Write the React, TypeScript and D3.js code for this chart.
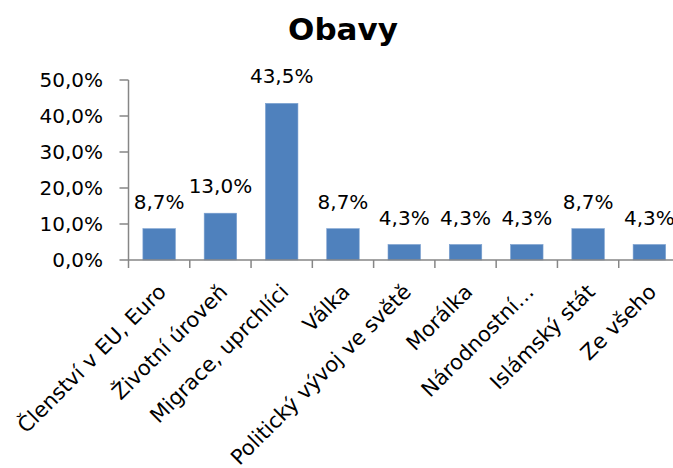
import React from "react";
import * as d3 from "d3";

const categories = [
  "Členství v EU, Euro",
  "Životní úroveň",
  "Migrace, uprchlíci",
  "Válka",
  "Politický vývoj ve světě",
  "Morálka",
  "Národnostní…",
  "Islámský stát",
  "Ze všeho",
];
const values = [8.7, 13.0, 43.5, 8.7, 4.3, 4.3, 4.3, 8.7, 4.3];
const yTicks = [0, 10, 20, 30, 40, 50];
const title = "Obavy";

const W = 673;
const H = 468;
const left = 128.5;
const right = 680;
const top = 80;
const bottom = 260;
const font = "'DejaVu Sans', sans-serif";
const axisColor = "#868686";

const fmt = (v: number) => v.toFixed(1).replace(".", ",") + "%";

export default function App() {
  const x = d3.scaleBand<string>().domain(categories).range([left, right]).paddingInner(0.47).paddingOuter(0.235);
  const xb = d3.scaleBand<string>().domain(categories).range([left, right]);
  const y = d3.scaleLinear().domain([0, 50]).range([bottom, top]);

  return (
    <svg width={W} height={H} style={{ position: "absolute", left: 0, top: 0 }} fontFamily={font}>
      <rect width={W} height={H} fill="#fff" />
      <text x={343} y={40} textAnchor="middle" fontSize={31} fontWeight="bold" fill="#000">
        {title}
      </text>
      {/* y axis */}
      <line x1={left} x2={left} y1={y(50)} y2={bottom} stroke={axisColor} strokeWidth={1.5} />
      {yTicks.map((t) => (
        <g key={t}>
          <line x1={left - 9} x2={left} y1={y(t)} y2={y(t)} stroke={axisColor} strokeWidth={1.5} />
          <text x={103} y={y(t)} dy="0.36em" textAnchor="end" fontSize={20} fill="#000">
            {fmt(t)}
          </text>
        </g>
      ))}
      {/* bars */}
      {categories.map((c, i) => (
        <rect key={c} x={x(c)} y={y(values[i])} width={x.bandwidth()} height={bottom - y(values[i])} fill="#4F81BD" stroke="#7A9FCF" strokeWidth={0.6} />
      ))}
      {/* x axis */}
      <line x1={left} x2={right} y1={bottom} y2={bottom} stroke={axisColor} strokeWidth={1.5} />
      {categories.map((c) => (
        <line key={c} x1={xb(c)} x2={xb(c)} y1={bottom} y2={bottom + 8} stroke={axisColor} strokeWidth={1.5} />
      ))}
      {/* data labels */}
      {categories.map((c, i) => (
        <text key={c} x={(x(c) as number) + x.bandwidth() / 2} y={y(values[i]) - 20} textAnchor="middle" fontSize={20} fill="#000">
          {fmt(values[i])}
        </text>
      ))}
      {/* category labels */}
      {categories.map((c) => {
        const cx = (xb(c) as number) + xb.bandwidth() / 2 + 3;
        return (
          <text key={c} transform={`translate(${cx},${288}) rotate(-45)`} textAnchor="end" dy="0.35em" fontSize={21} fill="#000">
            {c}
          </text>
        );
      })}
    </svg>
  );
}
